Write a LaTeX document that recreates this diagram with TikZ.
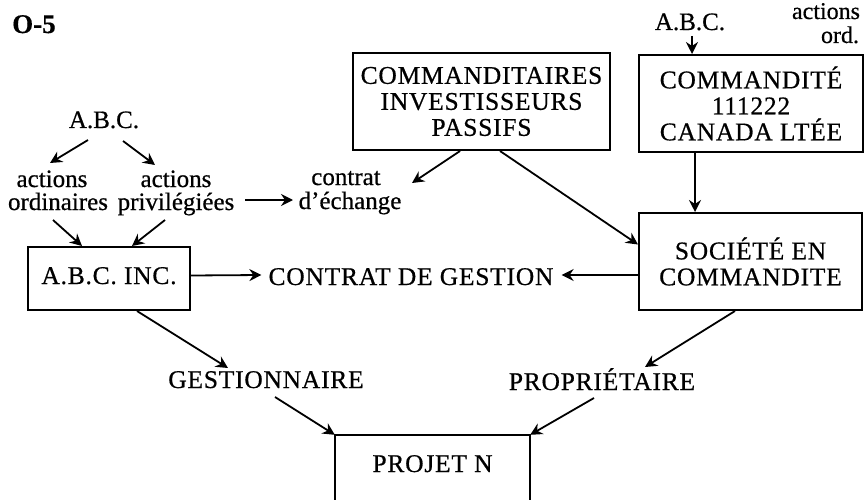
\documentclass[tikz,border=0pt]{standalone}
\usepackage{fontspec}
\setmainfont{Liberation Serif}[FakeBold=0.6]
\newfontfamily\capsfont{Liberation Serif}[FakeBold=0.6,LetterSpace=3]
\newfontfamily\titlefont{Liberation Serif Bold}[FakeBold=0.5]
\usetikzlibrary{arrows.meta}
\begin{document}
\begin{tikzpicture}[x=1pt,y=-1pt,
  lbl/.style={font=\fontsize{25}{26}\selectfont, inner sep=0pt, text height=17pt, text depth=6pt, anchor=base},
  capslbl/.style={font=\capsfont\fontsize{25.5}{26}\selectfont, inner sep=0pt, text height=17pt, text depth=6pt, anchor=base},
  box/.style={draw, line width=2pt, font=\capsfont\fontsize{25.5}{26}\selectfont, align=center, inner sep=0pt},
  boxline/.style={line width=2pt},
  arr/.style={-{Stealth[length=12pt,width=12pt,inset=4pt]}, line width=1.8pt},
]
\useasboundingbox (0,0) rectangle (864,500);

% title
\node[font=\titlefont\fontsize{27}{30}\selectfont, anchor=base west, inner sep=0pt] (title) at (12,33) {O-5};

% left free labels
\node[lbl] (abcL) at (104,128) {A.B.C.};
\node[lbl] (act1) at (52,187) {actions};
\node[lbl] (ord1) at (58,210) {ordinaires};
\node[lbl] (act2) at (176,187) {actions};
\node[lbl] (priv) at (176,210) {privilégiées};
\node[lbl] (contrat) at (346,185) {contrat};
\node[lbl] (echange) at (350,209) {d’échange};

% top right labels
\node[lbl] (abcR) at (690,30) {A.B.C.};
\node[font=\fontsize{24}{26}\selectfont, inner sep=0pt, anchor=base] (actR) at (826,19) {actions};
\node[font=\fontsize{24}{26}\selectfont, inner sep=0pt, anchor=base] (ordR) at (840,43) {ord.};

% boxes
\node[box, minimum width=257pt, minimum height=97pt] (cmd) at (481.5,101.5)
  {COMMANDITAIRES\\INVESTISSEURS\\PASSIFS};
\node[box, minimum width=224pt, minimum height=97pt] (cmdt) at (751,103.5)
  {COMMANDITÉ\\111222\\CANADA LTÉE};
\node[box, minimum width=223pt, minimum height=97pt] (soc) at (750.5,261.5)
  {SOCIÉTÉ EN\\COMMANDITE};
\node[box, minimum width=162pt, minimum height=63pt, text height=17pt, text depth=6pt] (abcInc) at (109,278.5)
  {A.B.C. INC.};
\node[font=\capsfont\fontsize{25.5}{26}\selectfont, inner sep=0pt, text height=17pt, text depth=6pt,
  minimum width=195pt, minimum height=63pt] (proj) at (432.5,466.5) {PROJET N};
\draw[boxline] ([shift={(0,5)}]proj.south west) -- (proj.north west) -- (proj.north east) -- ([shift={(0,5)}]proj.south east);

% middle labels
\node[capslbl] (contratG) at (411,285) {CONTRAT DE GESTION};
\node[capslbl] (gest) at (266,388) {GESTIONNAIRE};
\node[capslbl] (prop) at (602,390) {PROPRIÉTAIRE};

% connectors
\draw[arr] ([shift={(-16,12)}]abcL.base) -- ([shift={(-2,-24)}]act1.base);
\draw[arr] ([shift={(19,13)}]abcL.base) -- ([shift={(-21,-22)}]act2.base);
\draw[arr] ([shift={(-5,10)}]ord1.base) -- ([shift={(-27,0)}]abcInc.north);
\draw[arr] ([shift={(-11,10)}]priv.base) -- ([shift={(23,0)}]abcInc.north);
\draw[arr] ([shift={(69,-10)}]priv.base) -- ([shift={(-57,-9)}]echange.base);
\draw[arr] ([shift={(-21.5,0)}]cmd.south) -- ([shift={(66,-2)}]contrat.base);
\draw[arr] ([shift={(18.5,0)}]cmd.south) -- ([shift={(0,-17)}]soc.west);
\draw[arr] ([shift={(2,6)}]abcR.base) -- ([shift={(-59,0)}]cmdt.north);
\draw[arr] ([shift={(-56,0)}]cmdt.south) -- ([shift={(-55.5,0)}]soc.north);
\draw[arr] ([shift={(0,-3)}]abcInc.east) -- ([shift={(-7,-10)}]contratG.base west);
\draw[arr] ([shift={(0,13.5)}]soc.west) -- ([shift={(8,-10)}]contratG.base east);
\draw[arr] ([shift={(28,0)}]abcInc.south) -- ([shift={(-38,-20)}]gest.base);
\draw[arr] ([shift={(9,9)}]gest.base) -- (proj.north west);
\draw[arr] ([shift={(-15.5,0)}]soc.south) -- ([shift={(43,-23)}]prop.base);
\draw[arr] ([shift={(-8,8)}]prop.base) -- (proj.north east);
\end{tikzpicture}
\end{document}
